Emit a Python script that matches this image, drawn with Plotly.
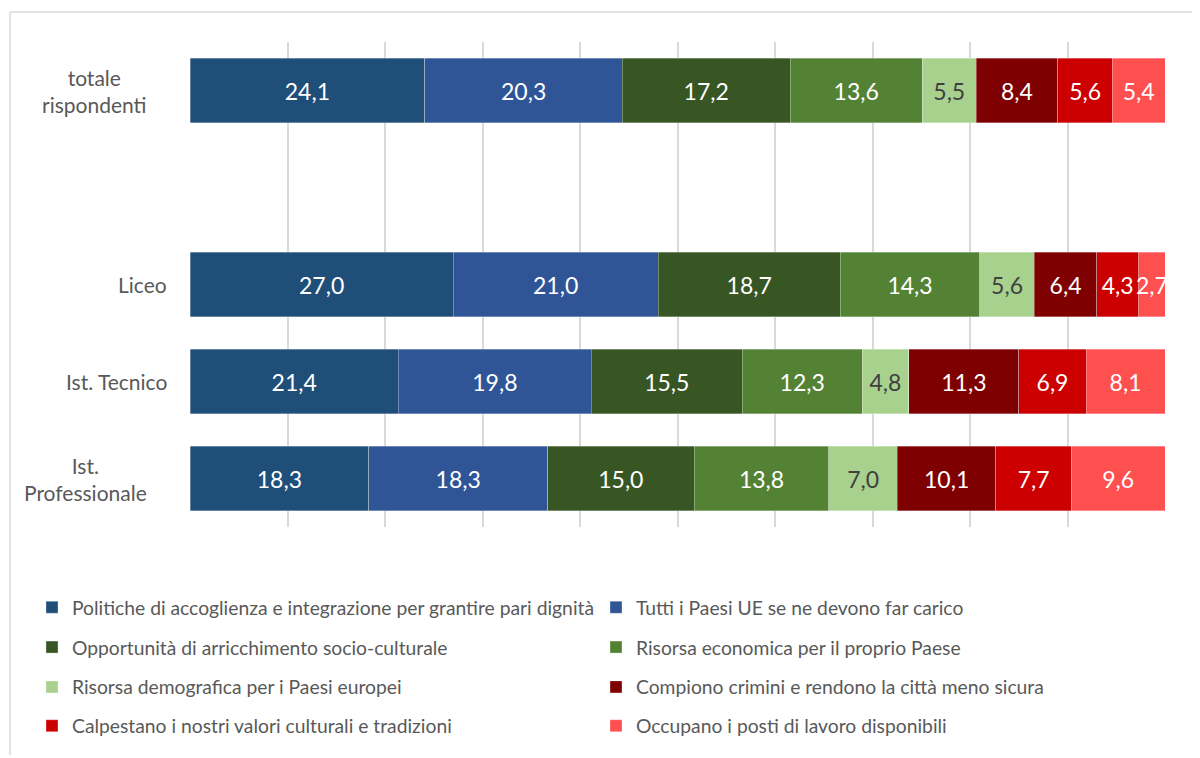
import plotly.graph_objects as go

# ---- data ----
categories = ["totale<br>rispondenti", " ", "Liceo", "Ist. Tecnico", "Ist.<br>Professionale"]

series_names = [
    "Politiche di accoglienza e integrazione per grantire pari dignità",
    "Tutti i Paesi UE se ne devono far carico",
    "Opportunità di arricchimento socio-culturale",
    "Risorsa economica per il proprio Paese",
    "Risorsa demografica per i Paesi europei",
    "Compiono crimini e rendono la città meno sicura",
    "Calpestano i nostri valori culturali e tradizioni",
    "Occupano i posti di lavoro disponibili",
]

politiche = [24.1, None, 27.0, 21.4, 18.3]
tutti_ue = [20.3, None, 21.0, 19.8, 18.3]
opportunita = [17.2, None, 18.7, 15.5, 15.0]
risorsa_economica = [13.6, None, 14.3, 12.3, 13.8]
risorsa_demografica = [5.5, None, 5.6, 4.8, 7.0]
crimini = [8.4, None, 6.4, 11.3, 10.1]
calpestano = [5.6, None, 4.3, 6.9, 7.7]
occupano = [5.4, None, 2.7, 8.1, 9.6]

series_values = [politiche, tutti_ue, opportunita, risorsa_economica,
                 risorsa_demografica, crimini, calpestano, occupano]

colors = ["#1F4E79", "#2F5597", "#375623", "#548235",
          "#A9D18E", "#7F0000", "#CC0000", "#FF5050"]
text_colors = ["white", "white", "white", "white",
               "#404040", "white", "white", "white"]

FONT = "Lato, sans-serif"


def fmt(v):
    return "" if v is None else f"{v:.1f}".replace(".", ",")


# page is drawn with an 8px body margin; work in screen pixels and convert
OFF = 8
FIG_W, FIG_H = 1200 - OFF, 758 - OFF
L, R, T, B = 190, 1165, 42, 529     # plot area in screen pixels
W, H = R - L, B - T


def px_x(px):
    return (px - L) / W


def px_y(py):
    return (B - py) / H


fig = go.Figure()
legend_keys = ["legend", "legend2", "legend3", "legend4"]
DATA_SIZE = 23
for i, (name, vals) in enumerate(zip(series_names, series_values)):
    fig.add_trace(go.Bar(
        y=categories, x=vals, orientation="h", name=name,
        marker=dict(color=colors[i], line=dict(color="rgba(255,255,255,0.45)", width=0.7)),
        text=[fmt(v) for v in vals], texttemplate="%{text}",
        textposition="inside", insidetextanchor="middle", textangle=0,
        textfont=dict(family=FONT, size=DATA_SIZE, color=text_colors[i]),
        legend=legend_keys[i // 2], hoverinfo="skip",
    ))

row_y = [610, 650, 690, 729]
layout_legends = {}
for k, key in enumerate(legend_keys):
    layout_legends[key] = dict(
        orientation="h", x=px_x(32), xanchor="left", y=px_y(row_y[k]), yanchor="middle",
        entrywidth=519, entrywidthmode="pixels", traceorder="normal",
        font=dict(family=FONT, size=19.3, color="#595959"), bgcolor="rgba(0,0,0,0)",
    )

annotations = []
label_right = {"totale<br>rispondenti": 149, "Liceo": 169, "Ist. Tecnico": 169,
               "Ist.<br>Professionale": 149}
for c, xr in label_right.items():
    annotations.append(dict(
        x=px_x(xr), xref="paper", y=c, yref="y", text=c, showarrow=False,
        xanchor="right", yanchor="middle", align="center",
        font=dict(family=FONT, size=21, color="#595959"),
    ))

border = "#D9D9D9"
shapes = [
    dict(type="line", xref="paper", yref="paper", x0=px_x(10), x1=px_x(1200),
         y0=px_y(12), y1=px_y(12), line=dict(color=border, width=1.5)),
    dict(type="line", xref="paper", yref="paper", x0=px_x(10), x1=px_x(10),
         y0=px_y(12), y1=px_y(758), line=dict(color=border, width=1.5)),
]

fig.update_layout(
    width=FIG_W, height=FIG_H,
    margin=dict(l=L - OFF, r=FIG_W - (R - OFF), t=T - OFF, b=FIG_H - (B - OFF), pad=0),
    paper_bgcolor="white", plot_bgcolor="white",
    barmode="stack", barnorm="percent", bargap=0.34,
    uniformtext=dict(minsize=DATA_SIZE, mode="show"),
    xaxis=dict(range=[0, 100], dtick=10, showgrid=True, gridcolor="#D9D9D9", gridwidth=1.5,
               showticklabels=False, zeroline=False, showline=False, fixedrange=True),
    yaxis=dict(type="category", categoryorder="array", categoryarray=categories,
               range=[4.5, -0.5], showticklabels=False, showgrid=False, zeroline=False,
               fixedrange=True),
    annotations=annotations, shapes=shapes,
    **layout_legends,
)

fig.write_html("out.html")
